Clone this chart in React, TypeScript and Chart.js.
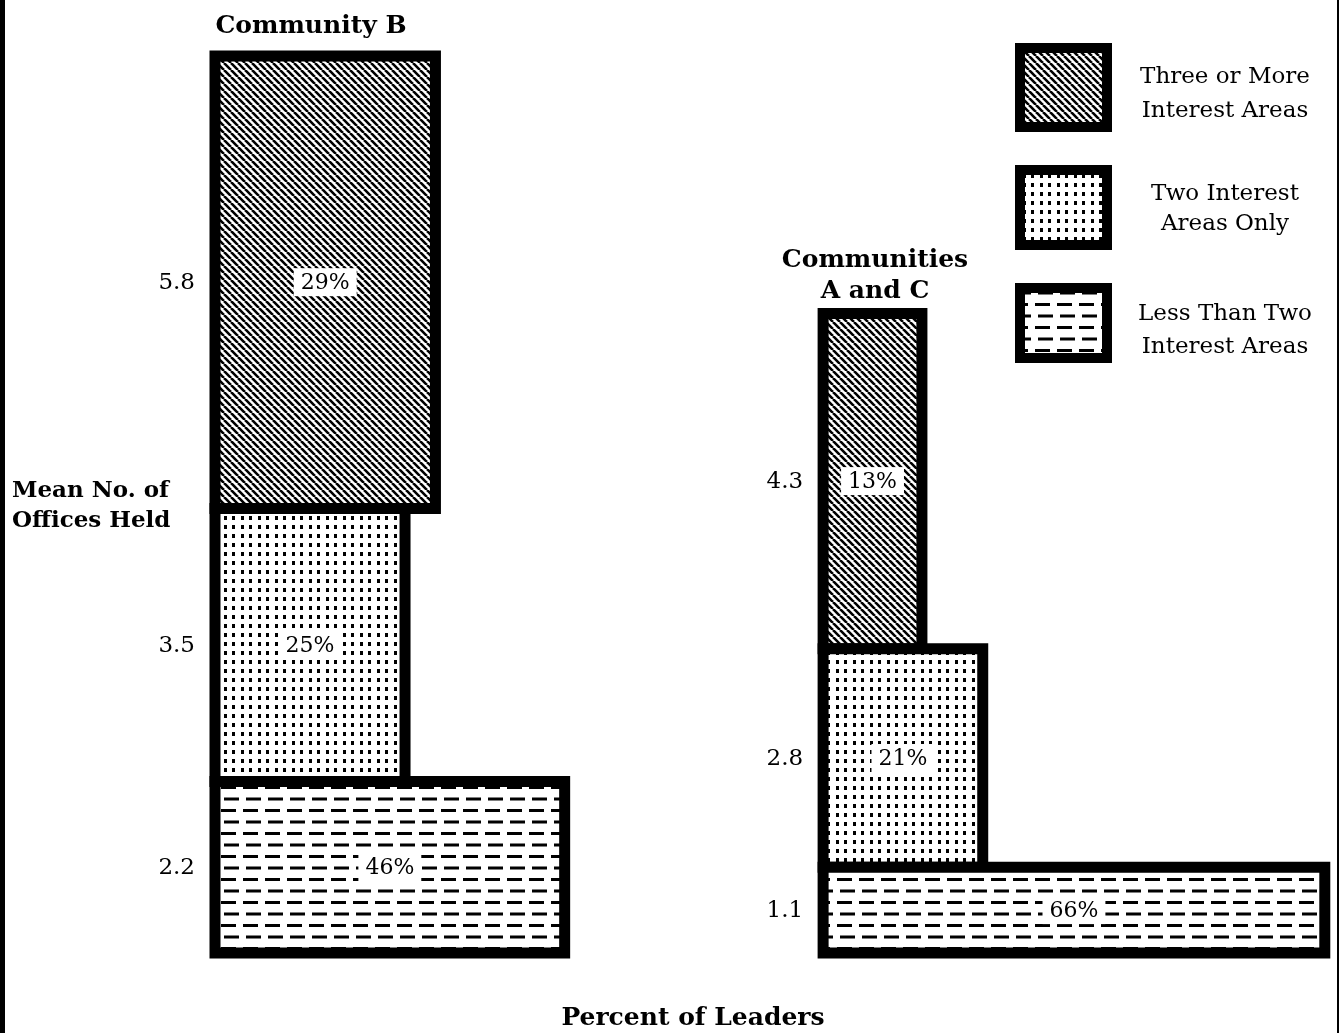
import React, { useEffect, useRef } from 'react';
import { Chart, registerables } from 'chart.js';

Chart.register(...registerables);

// ---------------- data ----------------
const categories = ['Community B', 'Communities A and C'];
const categoryTitleLines = [['Community B'], ['Communities', 'A and C']];
const legendLines = [
  ['Three or More', 'Interest Areas'],
  ['Two Interest', 'Areas Only'],
  ['Less Than Two', 'Interest Areas'],
];
const seriesNames = legendLines.map((l) => l.join(' '));
// mean number of offices held (bar height), per category
const meanThreeOrMore = [5.8, 4.3];
const meanTwo = [3.5, 2.8];
const meanLessThanTwo = [2.2, 1.1];
// percent of leaders (bar width), per category
const pctThreeOrMore = [29, 13];
const pctTwo = [25, 21];
const pctLessThanTwo = [46, 66];
const xAxisTitle = 'Percent of Leaders';
const yAxisTitleLines = ['Mean No. of', 'Offices Held'];

// ---------------- layout (not data) ----------------
const W = 1341;
const H = 1033;
const GROUP_START = [0, 80]; // x offset of each category block, in percent units
const SERIF = '"DejaVu Serif", "Liberation Serif", serif';

function makeHatch(): CanvasPattern {
  const s = 7;
  const c = document.createElement('canvas');
  c.width = s;
  c.height = s;
  const g = c.getContext('2d')!;
  g.fillStyle = '#fff';
  g.fillRect(0, 0, s, s);
  g.strokeStyle = '#000';
  g.lineWidth = 2.6;
  g.beginPath();
  for (const o of [-s, 0, s]) {
    g.moveTo(o, 0);
    g.lineTo(o + s, s);
  }
  g.stroke();
  return g.createPattern(c, 'repeat')!;
}

function makeDots(): CanvasPattern {
  const w = 17;
  const h = 9;
  const c = document.createElement('canvas');
  c.width = w;
  c.height = h;
  const g = c.getContext('2d')!;
  g.fillStyle = '#fff';
  g.fillRect(0, 0, w, h);
  g.fillStyle = '#000';
  g.fillRect(3, 3, 3, 4);
  g.fillRect(11, 3, 3, 4);
  return g.createPattern(c, 'repeat')!;
}

function makeDashes(): CanvasPattern {
  const w = 22;
  const h = 23;
  const c = document.createElement('canvas');
  c.width = w;
  c.height = h;
  const g = c.getContext('2d')!;
  g.fillStyle = '#fff';
  g.fillRect(0, 0, w, h);
  g.fillStyle = '#000';
  g.fillRect(1, 4, 15, 3);
  g.fillRect(4, 15.5, 15, 3);
  return g.createPattern(c, 'repeat')!;
}

interface Rect {
  g: number;
  s: number;
  x0: number;
  x1: number;
  y0: number;
  y1: number;
  pct: number;
  mean: number;
}

function buildRects(): Rect[] {
  const means = [meanThreeOrMore, meanTwo, meanLessThanTwo];
  const pcts = [pctThreeOrMore, pctTwo, pctLessThanTwo];
  const out: Rect[] = [];
  categories.forEach((_, g) => {
    let y = 0;
    // stack from bottom: less than two, two, three or more
    for (let s = 2; s >= 0; s--) {
      const m = means[s][g];
      const p = pcts[s][g];
      out.push({ g, s, x0: GROUP_START[g], x1: GROUP_START[g] + p, y0: y, y1: y + m, pct: p, mean: m });
      y += m;
    }
  });
  return out;
}

export default function App() {
  const ref = useRef<HTMLCanvasElement | null>(null);

  useEffect(() => {
    document.body.style.margin = '0';
    const canvas = ref.current!;
    const patterns = [makeHatch(), makeDots(), makeDashes()];
    const rects = buildRects();

    const datasets = rects.map((r) => {
      const mx = (r.x0 + r.x1) / 2;
      return {
        label: seriesNames[r.s] + ' – ' + categories[r.g],
        data: [
          { x: mx, y: r.y0 },
          { x: r.x1, y: r.y0 },
          { x: r.x1, y: r.y1 },
          { x: r.x0, y: r.y1 },
          { x: r.x0, y: r.y0 },
          { x: mx, y: r.y0 },
        ],
        showLine: true,
        fill: 'shape' as const,
        backgroundColor: patterns[r.s],
        borderColor: '#000',
        borderWidth: 11,
        borderJoinStyle: 'miter' as const,
        borderCapStyle: 'butt' as const,
        tension: 0,
        pointRadius: 0,
        pointHoverRadius: 0,
        clip: false as const,
      };
    });

    const annotPlugin = {
      id: 'annot',
      afterDatasetsDraw(chart: any) {
        const ctx: CanvasRenderingContext2D = chart.ctx;
        const xs = chart.scales.x;
        const ys = chart.scales.y;
        ctx.save();
        rects.forEach((r) => {
          const cx = xs.getPixelForValue((r.x0 + r.x1) / 2);
          const cy = ys.getPixelForValue((r.y0 + r.y1) / 2);
          ctx.font = `22px ${SERIF}`;
          const label = `${r.pct}%`;
          const tw = ctx.measureText(label).width;
          ctx.fillStyle = '#fff';
          ctx.fillRect(cx - tw / 2 - 7, cy - 14, tw + 14, 28);
          ctx.fillStyle = '#000';
          ctx.textAlign = 'center';
          ctx.textBaseline = 'middle';
          ctx.fillText(label, cx, cy + 1);
          // value label of mean offices, left of the block
          const gx = xs.getPixelForValue(GROUP_START[r.g]);
          ctx.font = `23px ${SERIF}`;
          ctx.textAlign = 'right';
          ctx.fillText(r.mean.toFixed(1), gx - 20, cy + 1);
        });
        ctx.restore();
      },
      afterDraw(chart: any) {
        const ctx: CanvasRenderingContext2D = chart.ctx;
        ctx.save();
        ctx.fillStyle = '#000';
        ctx.textBaseline = 'alphabetic';
        // category titles
        ctx.font = `bold 25px ${SERIF}`;
        ctx.textAlign = 'center';
        const titlePos = [
          { x: 311, y: [33] },
          { x: 875, y: [267, 298] },
        ];
        categoryTitleLines.forEach((lines, i) => {
          lines.forEach((t, j) => ctx.fillText(t, titlePos[i].x, titlePos[i].y[j]));
        });
        // axis titles
        ctx.fillText(xAxisTitle, 693, 1025);
        ctx.font = `bold 23px ${SERIF}`;
        ctx.textAlign = 'left';
        ctx.fillText(yAxisTitleLines[0], 12, 497);
        ctx.fillText(yAxisTitleLines[1], 12, 527);
        // legend
        const boxes = [
          { y: 48, h: 79 },
          { y: 170, h: 75 },
          { y: 288, h: 70 },
        ];
        const textY = [
          [83, 117],
          [200, 230],
          [320, 353],
        ];
        boxes.forEach((b, i) => {
          ctx.fillStyle = patterns[i];
          ctx.fillRect(1020, b.y, 87, b.h);
          ctx.strokeStyle = '#000';
          ctx.lineWidth = 10;
          ctx.lineJoin = 'miter';
          ctx.strokeRect(1020, b.y, 87, b.h);
          ctx.fillStyle = '#000';
          ctx.font = `23px ${SERIF}`;
          ctx.textAlign = 'center';
          legendLines[i].forEach((t, j) => ctx.fillText(t, 1225, textY[i][j]));
        });
        // scanned page edges
        ctx.fillStyle = '#000';
        ctx.fillRect(0, 0, 5, H);
        ctx.fillRect(1337, 0, 2, H);
        ctx.restore();
      },
    };

    const chart = new Chart(canvas, {
      type: 'scatter',
      data: { datasets: datasets as any },
      options: {
        animation: false,
        responsive: false,
        maintainAspectRatio: false,
        events: [],
        layout: { padding: { left: 215, right: 1, top: 17, bottom: 80 } },
        scales: {
          x: { type: 'linear', min: 0, max: 148, display: false },
          y: { type: 'linear', min: 0, max: 12, display: false },
        },
        plugins: {
          legend: { display: false },
          title: { display: false },
          tooltip: { enabled: false },
        },
      },
      plugins: [annotPlugin],
    });
    return () => chart.destroy();
  }, []);

  return (
    <div style={{ width: W, height: H, background: '#fff' }}>
      <canvas ref={ref} width={W} height={H} style={{ display: 'block', width: W, height: H }} />
    </div>
  );
}
